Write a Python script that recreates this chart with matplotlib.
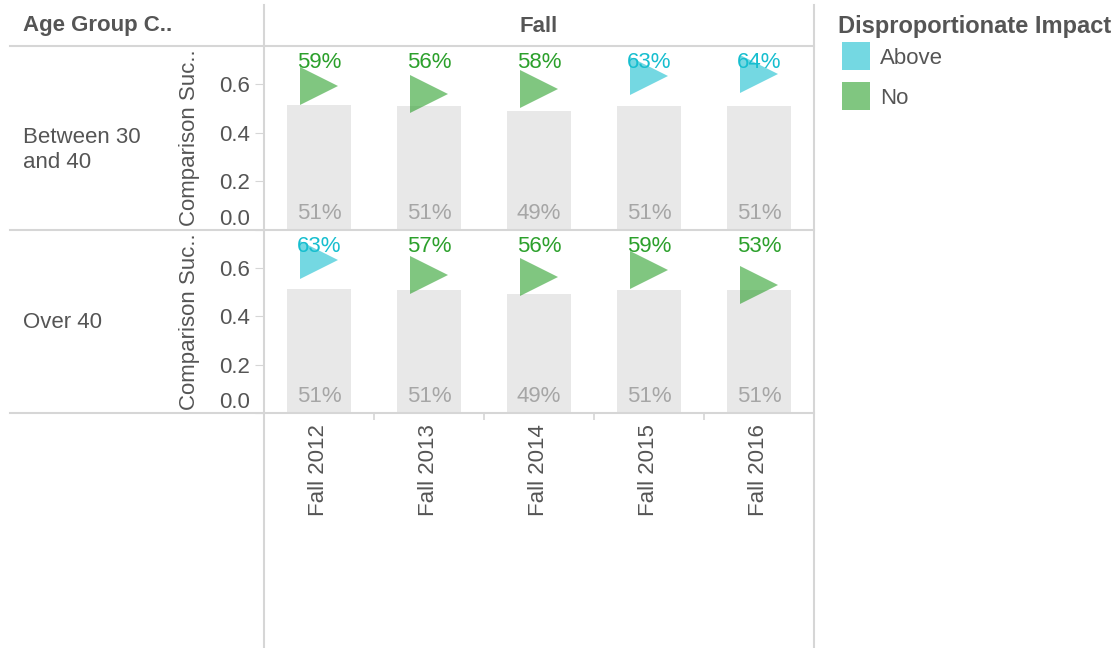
import matplotlib
matplotlib.use("Agg")
import matplotlib.pyplot as plt
from matplotlib.lines import Line2D
from matplotlib.patches import Rectangle

plt.rcParams['font.family'] = ['Liberation Sans', 'DejaVu Sans']

# data
terms = ['Fall 2012', 'Fall 2013', 'Fall 2014', 'Fall 2015', 'Fall 2016']
age_groups = ['Between 30\nand 40', 'Over 40']
comparison = [
    [0.513, 0.508, 0.49, 0.508, 0.508],
    [0.513, 0.508, 0.49, 0.508, 0.508],
]
success = [
    [0.59, 0.56, 0.58, 0.63, 0.64],
    [0.63, 0.57, 0.56, 0.59, 0.53],
]
impact = [
    ['No', 'No', 'No', 'Above', 'Above'],
    ['Above', 'No', 'No', 'No', 'No'],
]
impact_levels = ['Above', 'No']
impact_colors = {'Above': '#17becf', 'No': '#2ca02c'}

W, H = 1118, 648
TXT = '#555555'
RULE = '#d6d6d6'
FS = 16


def fx(x):
    return x / W


def fy(y):
    return 1 - y / H


def hline(y, x0, x1):
    fig.add_artist(Line2D([fx(x0), fx(x1)], [fy(y), fy(y)], color=RULE, lw=1.5))


def vline(x, y0, y1):
    fig.add_artist(Line2D([fx(x), fx(x)], [fy(y0), fy(y1)], color=RULE, lw=1.5))


fig = plt.figure(figsize=(W / 100, H / 100), dpi=100)

# panel geometry in pixels
px_left, px_right = 264, 814
rows_px = [(46, 230), (230, 413)]
label_y = [150, 323]

for r, (top, bottom) in enumerate(rows_px):
    ax = fig.add_axes([fx(px_left), fy(bottom), fx(px_right - px_left), (bottom - top) / H])
    x = list(range(len(terms)))
    ax.bar(x, comparison[r], width=0.58, color='#e8e8e8', zorder=1)
    for i, v in enumerate(comparison[r]):
        ax.text(i, 0.045, f"{v:.0%}", ha='center', va='baseline', fontsize=FS,
                color='#a6a6a6', zorder=2)
    for i, v in enumerate(success[r]):
        c = impact_colors[impact[r][i]]
        ax.plot(i, v, marker='>', markersize=27, color=c, alpha=0.6, markeredgewidth=0, zorder=3)
        ax.text(i, 0.664, f"{v:.0%}", ha='center', va='baseline', fontsize=FS, color=c, zorder=4)

    ax.set_xlim(-0.5, len(terms) - 0.5)
    ax.set_ylim(0, 0.755)
    for s in ax.spines.values():
        s.set_visible(False)
    ax.set_yticks([0.0, 0.2, 0.4, 0.6], ['0.0', '0.2', '0.4', '0.6'])
    ax.tick_params(axis='y', length=6.5, color=RULE, labelcolor=TXT, labelsize=FS, pad=3.6)
    ax.get_yticklabels()[0].set_va('bottom')
    ax.set_ylabel('Comparison Suc..', fontsize=FS, color=TXT)
    ax.yaxis.set_label_coords((200 - px_left) / (px_right - px_left), 0.5)
    if r == len(rows_px) - 1:
        ax.set_xticks(x, terms, rotation=90, va='top', ha='center')
        ax.set_xticks([0.5, 1.5, 2.5, 3.5], minor=True)
        ax.tick_params(axis='x', which='major', length=0, labelcolor=TXT, labelsize=FS, pad=8)
        ax.tick_params(axis='x', which='minor', length=5, color=RULE, width=1.2)
    else:
        ax.set_xticks([])

    fig.text(fx(23), fy(label_y[r]), age_groups[r], ha='left', va='center',
             fontsize=FS, color=TXT, linespacing=1.2)

# table rules
hline(46, 10, 814)
hline(230, 10, 814)
hline(413, 10, 814)
vline(264, 5, 648)
vline(814, 5, 648)

# headers
fig.text(fx(23), fy(26), 'Age Group C..', ha='left', va='center', fontsize=FS,
         fontweight='bold', color=TXT)
fig.text(fx(539), fy(26), 'Fall', ha='center', va='center', fontsize=FS,
         fontweight='bold', color=TXT)

# legend
fig.text(fx(838), fy(26), 'Disproportionate Impact', ha='left', va='center', fontsize=17,
         fontweight='bold', color=TXT)
for k, lvl in enumerate(impact_levels):
    yc = 56 + k * 40
    fig.add_artist(Rectangle((fx(842), fy(yc + 14)), 28 / W, 28 / H,
                             facecolor=impact_colors[lvl], alpha=0.6, edgecolor='none'))
    fig.text(fx(880), fy(yc + 2), lvl, ha='left', va='center', fontsize=FS, color=TXT)

fig.savefig('out.png', dpi=100)
